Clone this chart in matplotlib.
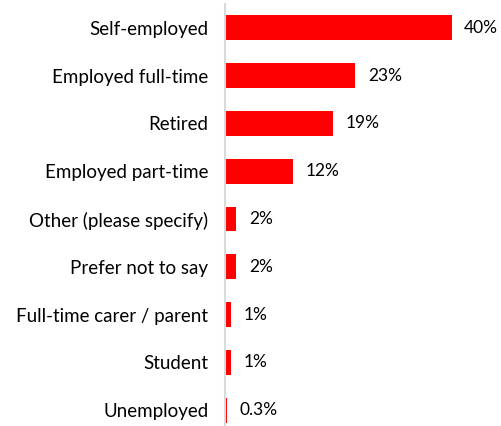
import matplotlib.pyplot as plt

categories = [
    "Self-employed",
    "Employed full-time",
    "Retired",
    "Employed part-time",
    "Other (please specify)",
    "Prefer not to say",
    "Full-time carer / parent",
    "Student",
    "Unemployed",
]
values = [40, 23, 19, 12, 2, 2, 1, 1, 0.3]
value_labels = ["40%", "23%", "19%", "12%", "2%", "2%", "1%", "1%", "0.3%"]

plt.rcParams["font.family"] = ["Lato", "DejaVu Sans"]

fig = plt.figure(figsize=(5.02, 4.26), dpi=100)
ax = fig.add_axes([225 / 502, 0.0, (497 - 225) / 502, (426 - 4) / 426])

pos = list(range(len(categories)))
ax.barh(pos, values, height=0.52, color="#ff0000")

for p, v, lab in zip(pos, values, value_labels):
    ax.annotate(lab, (v, p), xytext=(9, 0), textcoords="offset points",
                va="center", ha="left", fontsize=12.5, color="black")

ax.set_yticks(pos)
ax.set_yticklabels(categories, fontsize=13.5)
ax.tick_params(axis="y", length=0, pad=12)
ax.set_xticks([])
ax.set_xlim(0, 48)
ax.set_ylim(8.33, -0.5)

for side in ["top", "right", "bottom"]:
    ax.spines[side].set_visible(False)
ax.spines["left"].set_color("#d9d9d9")
ax.spines["left"].set_linewidth(1.5)

fig.savefig("out.png", dpi=100)
